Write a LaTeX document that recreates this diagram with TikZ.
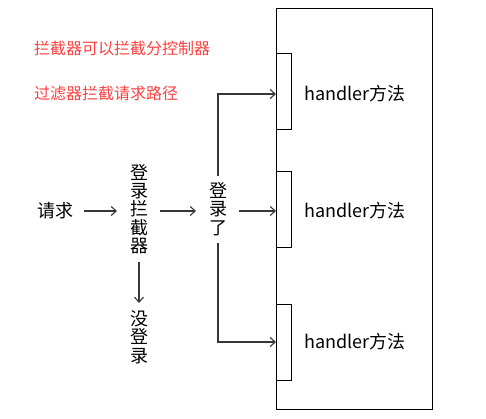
\documentclass[tikz,border=0pt]{standalone}
\usepackage{fontspec}
\setmainfont{Noto Sans CJK SC}
\usetikzlibrary{arrows.meta}
\tikzset{
  lbl/.style={inner sep=0pt, font=\fontsize{18}{18.4}\selectfont, align=center},
  redlbl/.style={inner sep=0pt, anchor=west, text=redtxt, font=\fontsize{16}{18}\selectfont},
  conn/.style={draw=linec, line width=1.1pt, -{Straight Barb[length=5pt,width=9pt]}},
  box/.style={draw=black, line width=1pt}
}
\definecolor{redtxt}{RGB}{255,64,64}
\definecolor{linec}{RGB}{55,55,55}
\begin{document}
\begin{tikzpicture}[x=1pt,y=-1pt]
\useasboundingbox (0,0) rectangle (486,419);
\draw[box] (276,9) rectangle (432,409);
\draw[box] (276,54) rectangle (291,130);
\draw[box] (276,172) rectangle (291,247);
\draw[box] (276,304) rectangle (291,380);
\node[lbl] (h1) at (355,94) {handler方法};
\node[lbl] (h2) at (355,211) {handler方法};
\node[lbl] (h3) at (355,342) {handler方法};
\coordinate (t1) at (276,94);
\coordinate (t2) at (276,211);
\coordinate (t3) at (276,342);
\node[redlbl] (r1) at (34,48) {拦截器可以拦截分控制器};
\node[redlbl] (r2) at (34,93) {过滤器拦截请求路径};
\node[lbl] (req) at (55,211) {请求};
\node[lbl] (li) at (139,209) {登\\录\\拦\\截\\器};
\node[lbl] (ok) at (218,209) {登\\录\\了};
\node[lbl] (no) at (139,337) {没\\登\\录};
\draw[conn] (84,211) -- (117,211);
\draw[conn] (160,211) -- (196,211);
\draw[conn] (239,211) -- (t2);
\draw[conn] (218,176) |- (t1);
\draw[conn] (218,243) |- (t3);
\draw[conn] (139,262) -- (139,303);
\end{tikzpicture}
\end{document}
